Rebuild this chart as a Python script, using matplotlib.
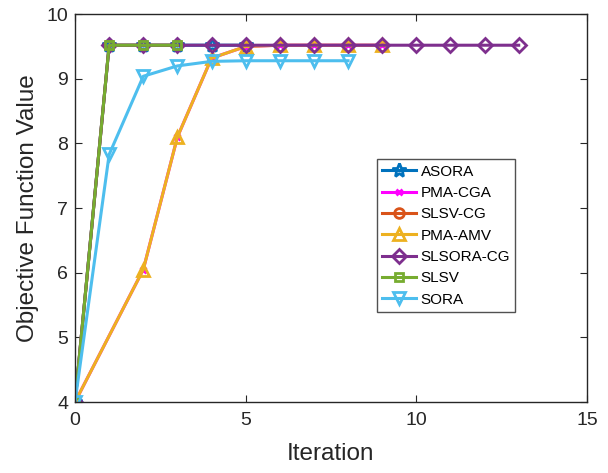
import numpy as np
import matplotlib
matplotlib.use('Agg')
from matplotlib import pyplot as plt

plt.rcParams['font.family'] = ['Liberation Sans', 'DejaVu Sans']

# iteration histories
it_asora = [0, 1, 2, 3, 4, 5]
asora = [4.0, 9.52, 9.52, 9.52, 9.52, 9.52]

it_pmacga = [0, 2, 3, 4, 5, 6, 7, 8, 9]
pmacga = [4.0, 6.05, 8.1, 9.32, 9.5, 9.52, 9.52, 9.52, 9.52]

it_slsvcg = [0, 1, 2, 3]
slsvcg = [4.0, 9.52, 9.52, 9.52]

it_pmaamv = [0, 2, 3, 4, 5, 6, 7, 8, 9]
pmaamv = [4.0, 6.05, 8.1, 9.32, 9.5, 9.52, 9.52, 9.52, 9.52]

it_slsoracg = list(range(14))
slsoracg = [4.0] + [9.52] * 13

it_slsv = [0, 1, 2, 3]
slsv = [4.0, 9.52, 9.52, 9.52]

it_sora = [0, 1, 2, 3, 4, 5, 6, 7, 8]
sora = [4.0, 7.83, 9.04, 9.2, 9.27, 9.28, 9.28, 9.28, 9.28]

series = [
    ('ASORA', it_asora, asora, '#0072BD', '*', 10),
    ('PMA-CGA', it_pmacga, pmacga, '#FF00FF', 'x', 5),
    ('SLSV-CG', it_slsvcg, slsvcg, '#D95319', 'o', 7),
    ('PMA-AMV', it_pmaamv, pmaamv, '#EDB120', '^', 9),
    ('SLSORA-CG', it_slsoracg, slsoracg, '#7E2F8E', 'D', 7),
    ('SLSV', it_slsv, slsv, '#77AC30', 's', 6),
    ('SORA', it_sora, sora, '#4DBEEE', 'v', 9),
]

fig = plt.figure(figsize=(6.08, 4.73), dpi=100)
ax = fig.add_axes([0.1234, 0.150, 0.842, 0.820])

for name, xs, ys, col, mk, ms in series:
    ax.plot(xs, ys, '-', color=col, marker=mk, markersize=ms, lw=2.2,
            markerfacecolor='none', markeredgewidth=2, label=name)

ax.set_xlim(0, 15)
ax.set_ylim(4, 10)
ax.set_xticks([0, 5, 10, 15])
ax.set_yticks([4, 5, 6, 7, 8, 9, 10])
ax.tick_params(direction='in', top=True, right=True, labelsize=14,
               colors='#262626', length=5)
ax.tick_params(axis='x', pad=7)
ax.tick_params(axis='y', pad=5)
for s in ax.spines.values():
    s.set_color('#262626')
    s.set_linewidth(1)
ax.set_xlabel('Iteration', fontsize=17.5, color='#262626', labelpad=10)
ax.set_ylabel('Objective Function Value', fontsize=17.5, color='#262626', labelpad=5)

leg = ax.legend(loc='upper left', bbox_to_anchor=(0.59, 0.626), fontsize=11,
                frameon=True, fancybox=False, edgecolor='#262626',
                borderaxespad=0, handlelength=2.2, labelspacing=0.48,
                handletextpad=0.3, borderpad=0.35)
leg.get_frame().set_linewidth(1)

fig.savefig('out.png', dpi=100)
